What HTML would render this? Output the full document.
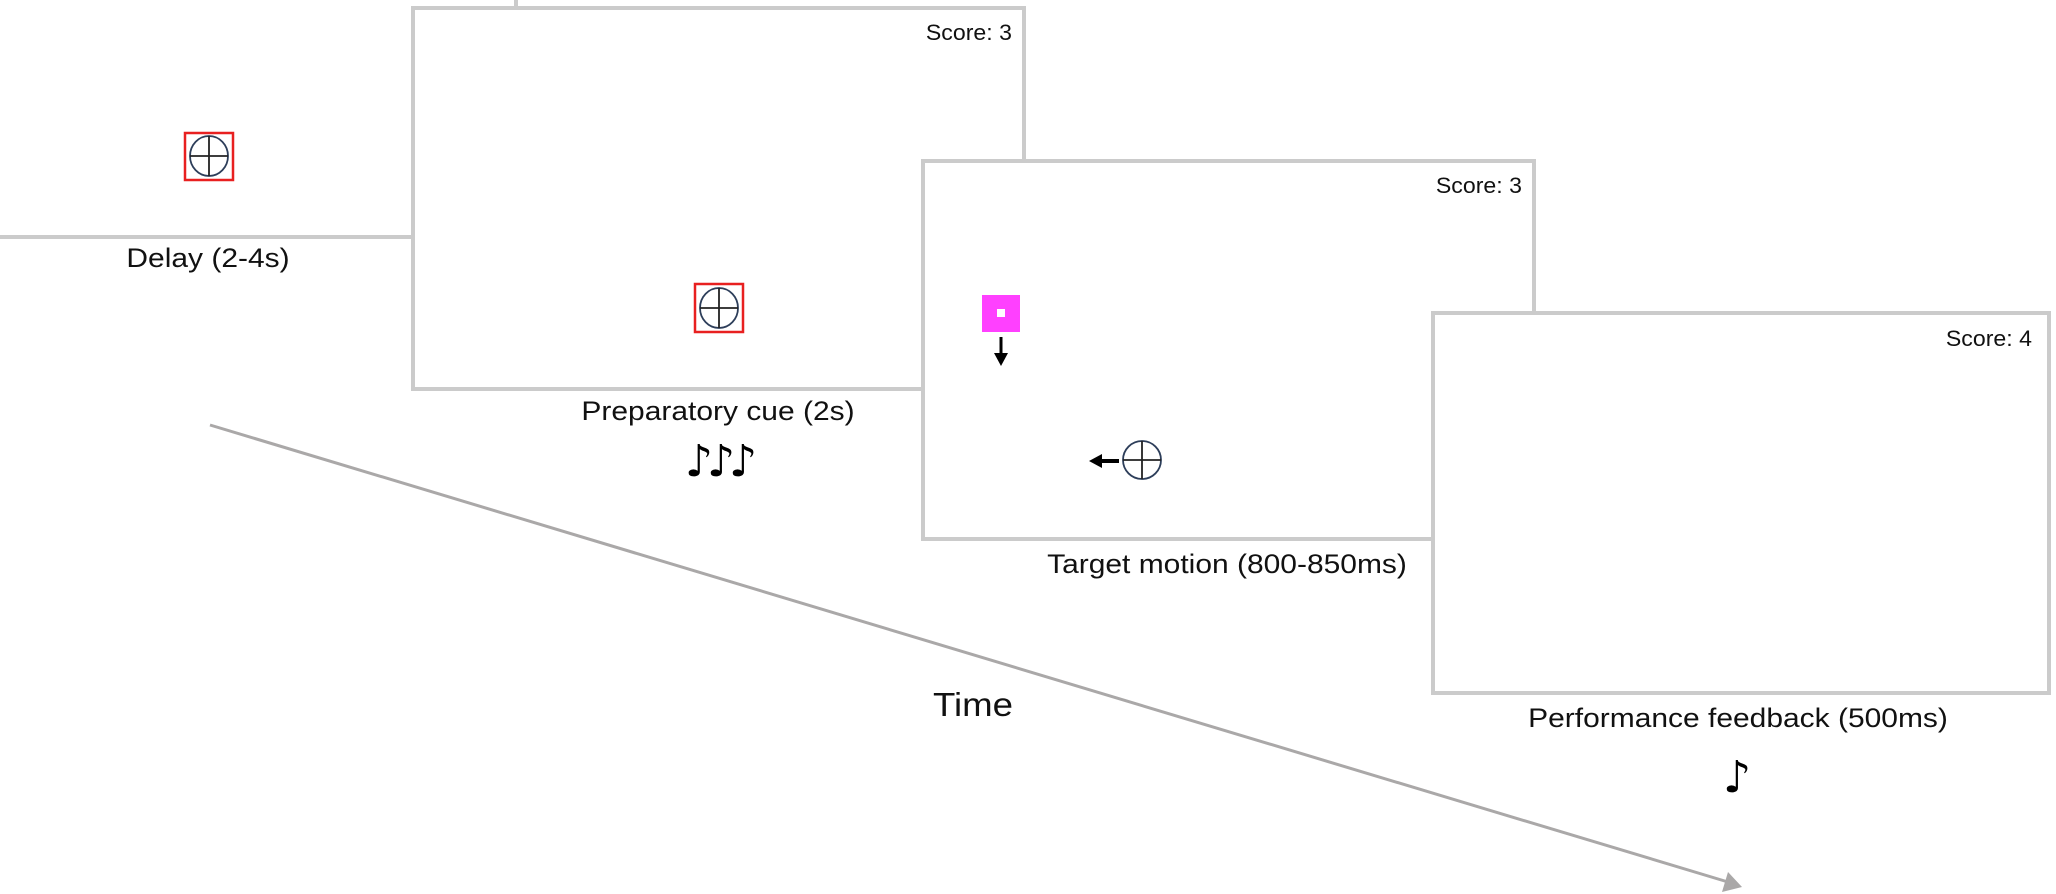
<!DOCTYPE html>
<html><head><meta charset="utf-8"><style>
html,body{margin:0;padding:0;background:#fff;}
body{width:2056px;height:894px;position:relative;overflow:hidden;font-family:"Liberation Sans",sans-serif;}
.box{position:absolute;border:4px solid #cbcbcb;background:#fff;box-sizing:border-box;}
.score{position:absolute;font-size:22px;color:#111;transform:scaleX(1.05);transform-origin:right;}
.lbl{position:absolute;font-size:27px;color:#111;transform:translateX(-50%) scaleX(1.11);white-space:nowrap;}
.note{position:absolute;font-size:44px;color:#000;transform:translateX(-50%);white-space:nowrap;font-family:'DejaVu Sans',sans-serif;font-weight:bold;}
</style></head><body>
<div class="box" style="left:-10px;top:-150px;width:528px;height:389px;"></div>
<div class="box" style="left:411px;top:6px;width:615px;height:385px;"></div>
<div class="box" style="left:921px;top:159px;width:615px;height:382px;"></div>
<div class="box" style="left:1431px;top:311px;width:620px;height:384px;"></div>

<div class="score" style="right:1044px;top:20px;">Score: 3</div>
<div class="score" style="right:534px;top:173px;">Score: 3</div>
<div class="score" style="right:24px;top:326px;">Score: 4</div>

<svg width="2056" height="894" style="position:absolute;left:0;top:0">
  <rect x="185" y="133" width="48" height="47" fill="none" stroke="#e82020" stroke-width="2.5"/>
  <ellipse cx="209" cy="156" rx="19" ry="20" fill="none" stroke="#2d3e5a" stroke-width="1.8"/>
  <line x1="190" y1="156" x2="228" y2="156" stroke="#222" stroke-width="1.8"/>
  <line x1="209" y1="136" x2="209" y2="176" stroke="#222" stroke-width="1.8"/>

  <rect x="695" y="284" width="48" height="48" fill="none" stroke="#e82020" stroke-width="2.5"/>
  <ellipse cx="719" cy="308" rx="19" ry="20" fill="none" stroke="#2d3e5a" stroke-width="1.8"/>
  <line x1="700" y1="308" x2="738" y2="308" stroke="#222" stroke-width="1.8"/>
  <line x1="719" y1="288" x2="719" y2="328" stroke="#222" stroke-width="1.8"/>

  <rect x="982" y="295" width="38" height="37" fill="#ff40ff"/>
  <rect x="997" y="309" width="8" height="8" fill="#fff"/>
  <line x1="1001" y1="337" x2="1001" y2="355" stroke="#000" stroke-width="3"/>
  <polygon points="994,353 1008,353 1001,366" fill="#000"/>

  <circle cx="1142" cy="460" r="19" fill="none" stroke="#2d3e5a" stroke-width="1.8"/>
  <line x1="1123" y1="460" x2="1161" y2="460" stroke="#222" stroke-width="1.8"/>
  <line x1="1142" y1="441" x2="1142" y2="479" stroke="#222" stroke-width="1.8"/>
  <line x1="1100" y1="461" x2="1119" y2="461" stroke="#000" stroke-width="4"/>
  <polygon points="1089,461 1102,454 1102,468" fill="#000"/>

  <line x1="210" y1="425" x2="1728" y2="882" stroke="#aaa8a8" stroke-width="3"/>
  <polygon points="1742,887 1722,892 1728,872" fill="#aaa8a8"/>
</svg>

<div class="lbl" style="left:208px;top:243px;">Delay (2-4s)</div>
<div class="lbl" style="left:718px;top:396px;">Preparatory cue (2s)</div>
<div class="note" style="left:718px;top:436px;letter-spacing:-6px;">♪♪♪</div>
<div class="lbl" style="left:1227px;top:549px;">Target motion (800-850ms)</div>
<div class="lbl" style="left:1738px;top:703px;">Performance feedback (500ms)</div>
<div class="note" style="left:1737px;top:752px;">♪</div>
<div class="lbl" style="left:973px;top:686px;font-size:33px;">Time</div>
</body></html>
